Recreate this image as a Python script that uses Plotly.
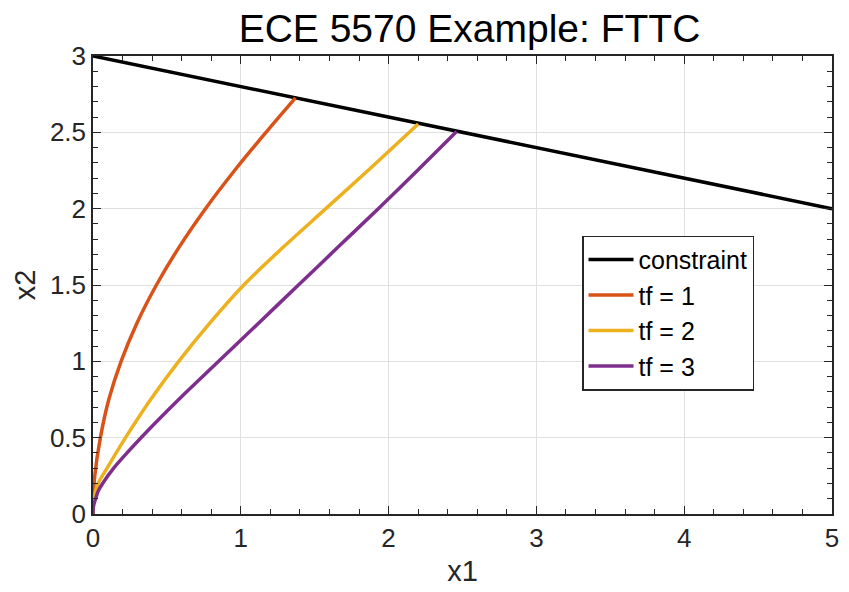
import plotly.graph_objects as go

# Constraint line
con_x = [0, 5]
con_y = [3, 2]

# tf = 1
tf1_y = [0, 0.1, 0.25, 0.5, 0.75, 1.0, 1.25, 1.5, 1.75, 2.0, 2.25, 2.5, 2.725]
tf1_x = [0, 0.002, 0.012, 0.05, 0.107, 0.19, 0.297, 0.429, 0.584, 0.761, 0.958, 1.171, 1.37]

# tf = 2
tf2_y = [0, 0.1, 0.2, 0.3, 0.5, 0.75, 1.0, 1.25, 1.5, 1.75, 2.0, 2.25, 2.555]
tf2_x = [0, 0.006, 0.035, 0.095, 0.22, 0.39, 0.58, 0.79, 1.02, 1.29, 1.575, 1.86, 2.2]

# tf = 3
tf3_y = [0, 0.05, 0.1, 0.15, 0.2, 0.3, 0.4, 0.5, 0.75, 1.0, 1.25, 1.5, 1.75, 2.0, 2.25, 2.505]
tf3_x = [0, 0.003, 0.018, 0.035, 0.065, 0.14, 0.23, 0.325, 0.58, 0.85, 1.12, 1.39, 1.66, 1.93, 2.195, 2.46]

x_ticks = [0, 1, 2, 3, 4, 5]
y_ticks = [0, 0.5, 1, 1.5, 2, 2.5, 3]

FONT = "Liberation Sans, Arial, Helvetica, sans-serif"
AX = "#262626"

fig = go.Figure()
fig.add_trace(go.Scatter(x=con_x, y=con_y, mode="lines", name="constraint",
                         line=dict(color="#000000", width=3.5)))
fig.add_trace(go.Scatter(x=tf1_x, y=tf1_y, mode="lines", name="tf = 1",
                         line=dict(color="#D95319", width=3.5, shape="spline", smoothing=1.0)))
fig.add_trace(go.Scatter(x=tf2_x, y=tf2_y, mode="lines", name="tf = 2",
                         line=dict(color="#EDB120", width=3.5, shape="spline", smoothing=1.0)))
fig.add_trace(go.Scatter(x=tf3_x, y=tf3_y, mode="lines", name="tf = 3",
                         line=dict(color="#7E2F8E", width=3.5, shape="spline", smoothing=1.0)))

axis_common = dict(
    showline=True, linecolor=AX, linewidth=1.5, mirror="ticks",
    ticks="inside", ticklen=8, tickwidth=1.3, tickcolor=AX,
    showgrid=True, gridcolor="#e0e0e0", gridwidth=1,
    zeroline=False,
    tickfont=dict(family=FONT, size=26, color=AX),
)

fig.update_layout(
    width=849, height=592,
    margin=dict(l=93, r=10, t=56, b=75),
    paper_bgcolor="white", plot_bgcolor="white",
    title=dict(text="ECE 5570 Example: FTTC", x=0.553, xanchor="center",
               y=0.952, yanchor="middle", yref="container",
               font=dict(family=FONT, size=39, color="#000000")),
    xaxis=dict(range=[0, 5], tickvals=x_ticks, ticktext=[str(v) for v in x_ticks],
               title=dict(text="x1", font=dict(family=FONT, size=29, color=AX), standoff=9),
               minor=dict(ticks="inside", dtick=0.2, ticklen=5, tickwidth=1.2, tickcolor=AX, showgrid=False),
               **axis_common),
    yaxis=dict(range=[0, 3], tickvals=y_ticks, ticktext=[("%g" % v) for v in y_ticks],
               title=dict(text="x2", font=dict(family=FONT, size=29, color=AX), standoff=6),
               minor=dict(ticks="inside", dtick=0.1, ticklen=5, tickwidth=1.2, tickcolor=AX, showgrid=False),
               **axis_common),
    legend=dict(x=0.662, y=0.608, xanchor="left", yanchor="top",
                bgcolor="white", bordercolor="#262626", borderwidth=1.3,
                font=dict(family=FONT, size=25, color="#000000"),
                itemwidth=45, tracegroupgap=0),
    showlegend=True,
)

fig.write_html("out.html")
